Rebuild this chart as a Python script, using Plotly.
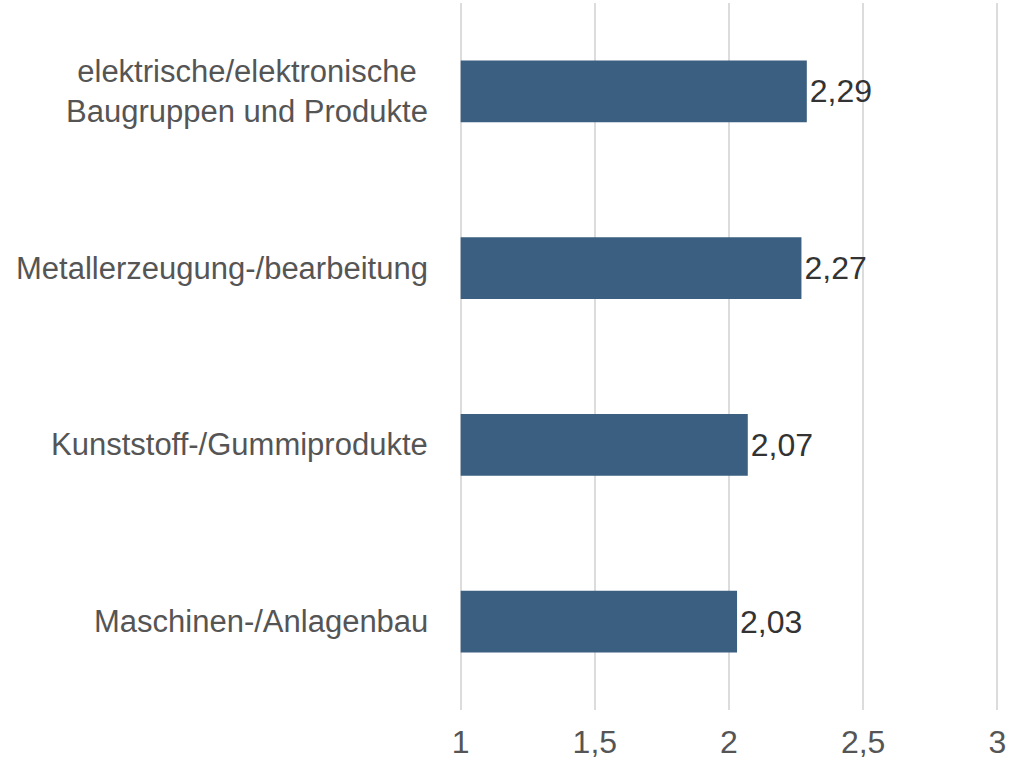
import plotly.graph_objects as go

categories = [
    "elektrische/elektronische<br>Baugruppen und Produkte",
    "Metallerzeugung-/bearbeitung",
    "Kunststoff-/Gummiprodukte",
    "Maschinen-/Anlagenbau",
]
values = [2.29, 2.27, 2.07, 2.03]
x_ticks = [1, 1.5, 2, 2.5, 3]
x_base = 1

font_family = "Liberation Sans, Arial, sans-serif"

fig = go.Figure(go.Bar(
    x=[v - x_base for v in values],
    base=x_base,
    y=categories,
    orientation="h",
    width=0.35,
    marker=dict(color="#3a5f80", line=dict(width=0)),
    text=values,
    texttemplate="%{text:.2f}",
    textposition="outside",
    textfont=dict(size=32, color="#333333", family=font_family),
    cliponaxis=False,
))

# category labels as annotations so the two-line label is centered
for cat in categories:
    fig.add_annotation(
        x=x_base, y=cat, xref="x", yref="y",
        text=cat, showarrow=False,
        xanchor="right", yanchor="middle", align="center",
        xshift=-31,
        font=dict(size=31, color="#555555", family=font_family),
    )

fig.update_layout(
    width=1024, height=772,
    margin=dict(l=458, r=24, t=3, b=62),
    paper_bgcolor="white", plot_bgcolor="white",
    separators=",.",
    showlegend=False,
    font=dict(family=font_family, size=31, color="#555555"),
)
fig.update_xaxes(
    range=[0.99, 3.01],
    tickvals=x_ticks,
    showgrid=True, gridcolor="#dcdcdc", gridwidth=2,
    zeroline=False, showline=False,
    ticks="", ticklabelstandoff=10,
    tickfont=dict(size=32, color="#555555"),
)
fig.update_yaxes(
    autorange="reversed",
    showticklabels=False, showgrid=False,
    zeroline=False, showline=False, ticks="",
)

fig.write_html(
    "out.html",
    config={"displayModeBar": False},
    post_script="document.body.style.margin='0';",
)
